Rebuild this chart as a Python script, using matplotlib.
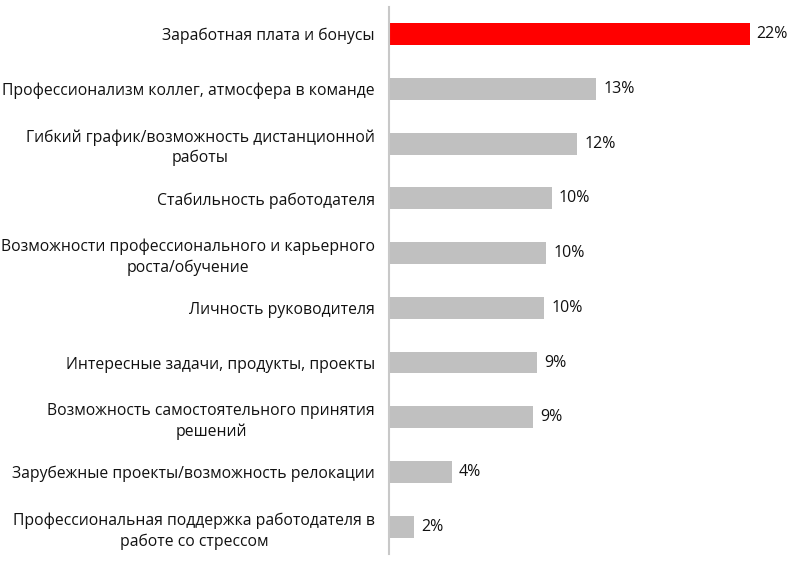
import matplotlib
matplotlib.use("Agg")
import matplotlib.pyplot as plt

categories = [
    "Заработная плата и бонусы",
    "Профессионализм коллег, атмосфера в команде",
    "Гибкий график/возможность дистанционной\nработы",
    "Стабильность работодателя",
    "Возможности профессионального и карьерного\nроста/обучение",
    "Личность руководителя",
    "Интересные задачи, продукты, проекты",
    "Возможность самостоятельного принятия\nрешений",
    "Зарубежные проекты/возможность релокации",
    "Профессиональная поддержка работодателя в\nработе со стрессом",
]
values = [22.0, 12.65, 11.5, 9.95, 9.6, 9.47, 9.05, 8.8, 3.85, 1.55]
value_labels = ["22%", "13%", "12%", "10%", "10%", "10%", "9%", "9%", "4%", "2%"]

plt.rcParams['font.family'] = ['Open Sans', 'DejaVu Sans']

fig = plt.figure(figsize=(8, 5.62), dpi=100)
ax = fig.add_axes([0.486, 0.014, 0.49, 0.974])

colors = ["#ff0000"] + ["#c0c0c0"] * (len(values) - 1)
y = list(range(len(values)))
ax.barh(y, values, height=0.4, color=colors, edgecolor="none")
ax.set_ylim(len(values) - 0.5, -0.5)
ax.set_xlim(0, 23.9)

for yi, v, lab in zip(y, values, value_labels):
    ax.annotate(lab, (v, yi), xytext=(5, 0), textcoords="offset points",
                va="center", ha="left", fontsize=11.5, color="#111111")

ax.set_yticks(y)
ax.set_yticklabels(categories, fontsize=11.3, color="#111111",
                   multialignment="center", linespacing=1.35)
ax.tick_params(axis="y", length=0, pad=10)
ax.set_xticks([])
for s in ["top", "right", "bottom"]:
    ax.spines[s].set_visible(False)
ax.spines["left"].set_color("#c8c8c8")
ax.spines["left"].set_linewidth(1.5)

fig.savefig("out.png", dpi=100)
